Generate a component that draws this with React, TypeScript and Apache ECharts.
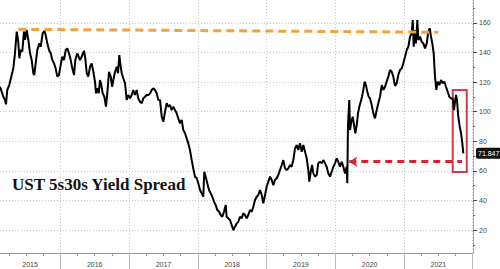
import React, { useEffect, useRef } from "react";
import * as echarts from "echarts";

// Decimal-year dates and 5s30s spread (bp)
const dates: number[] = [
  2015.122, 2015.147, 2015.170, 2015.195, 2015.209, 2015.228, 2015.257, 2015.292, 2015.316, 2015.340,
  2015.365, 2015.388, 2015.403, 2015.423, 2015.446, 2015.471, 2015.486, 2015.510, 2015.534, 2015.559,
  2015.583, 2015.607, 2015.621, 2015.641, 2015.665, 2015.694, 2015.714, 2015.743, 2015.767, 2015.787,
  2015.810, 2015.835, 2015.860, 2015.883, 2015.908, 2015.932, 2015.956, 2015.980, 2016.005, 2016.028,
  2016.053, 2016.078, 2016.101, 2016.126, 2016.151, 2016.174, 2016.199, 2016.218, 2016.247, 2016.286,
  2016.311, 2016.344, 2016.363, 2016.384, 2016.407, 2016.432, 2016.456, 2016.480, 2016.504, 2016.519,
  2016.538, 2016.558, 2016.577, 2016.596, 2016.616, 2016.640, 2016.664, 2016.683, 2016.708, 2016.733,
  2016.752, 2016.771, 2016.795, 2016.820, 2016.839, 2016.858, 2016.872, 2016.893, 2016.916, 2016.941,
  2016.965, 2016.989, 2017.014, 2017.038, 2017.062, 2017.086, 2017.111, 2017.134, 2017.159, 2017.184,
  2017.207, 2017.232, 2017.256, 2017.280, 2017.305, 2017.329, 2017.352, 2017.377, 2017.402, 2017.425,
  2017.450, 2017.475, 2017.498, 2017.523, 2017.547, 2017.571, 2017.596, 2017.620, 2017.644, 2017.668,
  2017.693, 2017.716, 2017.741, 2017.766, 2017.789, 2017.814, 2017.838, 2017.862, 2017.886, 2017.911,
  2017.934, 2017.959, 2017.984, 2018.007, 2018.032, 2018.057, 2018.080, 2018.094, 2018.115, 2018.138,
  2018.163, 2018.188, 2018.211, 2018.236, 2018.260, 2018.284, 2018.309, 2018.333, 2018.357, 2018.381,
  2018.406, 2018.420, 2018.444, 2018.468, 2018.493, 2018.517, 2018.541, 2018.566, 2018.589, 2018.614,
  2018.639, 2018.662, 2018.687, 2018.711, 2018.735, 2018.759, 2018.784, 2018.808, 2018.832, 2018.857,
  2018.880, 2018.905, 2018.930, 2018.953, 2018.978, 2019.002, 2019.026, 2019.051, 2019.075, 2019.099,
  2019.123, 2019.148, 2019.171, 2019.196, 2019.221, 2019.244, 2019.269, 2019.293, 2019.317, 2019.342,
  2019.366, 2019.390, 2019.414, 2019.439, 2019.462, 2019.487, 2019.512, 2019.535, 2019.560, 2019.584,
  2019.608, 2019.622, 2019.643, 2019.662, 2019.681, 2019.705, 2019.730, 2019.753, 2019.778, 2019.803,
  2019.826, 2019.851, 2019.875, 2019.899, 2019.924, 2019.948, 2019.972, 2019.996, 2020.021, 2020.044,
  2020.069, 2020.094, 2020.117, 2020.142, 2020.166, 2020.175, 2020.185, 2020.204, 2020.215, 2020.233,
  2020.254, 2020.273, 2020.292, 2020.312, 2020.331, 2020.350, 2020.370, 2020.389, 2020.408, 2020.428,
  2020.447, 2020.466, 2020.487, 2020.506, 2020.530, 2020.554, 2020.578, 2020.603, 2020.626, 2020.651,
  2020.676, 2020.699, 2020.724, 2020.748, 2020.772, 2020.797, 2020.821, 2020.845, 2020.869, 2020.894,
  2020.917, 2020.942, 2020.967, 2020.990, 2021.015, 2021.040, 2021.063, 2021.088, 2021.112, 2021.127,
  2021.141, 2021.160, 2021.175, 2021.194, 2021.209, 2021.233, 2021.258, 2021.281, 2021.306, 2021.331,
  2021.354, 2021.374, 2021.393, 2021.412, 2021.432, 2021.451, 2021.470, 2021.491, 2021.514, 2021.539,
  2021.563, 2021.587, 2021.611, 2021.636, 2021.659, 2021.684, 2021.709, 2021.728, 2021.742, 2021.757,
  2021.771, 2021.790, 2021.811, 2021.830, 2021.849, 2021.863,
];

const spread: number[] = [
  116.9, 113.5, 110.1, 107.9, 105.0, 114.7, 118.0, 124.8, 129.3, 139.5,
  154.1, 147.3, 136.1, 141.7, 140.6, 154.1, 148.5, 155.2, 148.5, 139.5,
  134.9, 125.9, 124.8, 132.7, 141.7, 146.2, 143.9, 153.0, 154.7, 151.8,
  146.2, 141.7, 139.5, 134.9, 132.7, 129.3, 123.7, 124.8, 131.6, 137.2,
  134.9, 141.7, 142.8, 139.5, 134.9, 129.3, 124.8, 134.9, 139.5, 134.9,
  137.2, 141.2, 136.1, 126.0, 123.7, 130.4, 132.7, 127.0, 120.3, 112.4,
  115.8, 112.4, 121.4, 118.0, 112.4, 110.1, 103.4, 112.4, 127.0, 123.7,
  116.9, 121.4, 127.0, 130.4, 126.0, 138.3, 132.7, 126.0, 122.6, 119.2,
  107.9, 111.3, 109.0, 111.3, 114.7, 111.3, 114.7, 109.0, 106.7, 105.7,
  109.0, 110.1, 111.3, 111.3, 112.4, 114.7, 115.8, 114.7, 112.4, 107.9,
  107.9, 96.6, 93.2, 100.0, 105.7, 103.4, 104.5, 101.1, 103.4, 101.1,
  98.9, 95.5, 92.2, 94.4, 87.6, 85.4, 82.0, 78.6, 74.1, 67.3,
  61.7, 56.1, 55.0, 51.6, 47.1, 44.8, 42.5, 59.4, 56.1, 51.6,
  47.1, 44.8, 42.5, 39.2, 36.9, 33.5, 32.4, 30.2, 29.0, 32.4,
  36.9, 29.0, 27.9, 26.8, 23.4, 20.0, 22.3, 24.5, 25.6, 29.0,
  27.9, 31.3, 30.2, 27.9, 30.2, 33.5, 32.4, 35.8, 40.3, 42.5,
  43.7, 47.1, 43.7, 38.1, 43.7, 49.3, 52.7, 56.1, 53.8, 50.4,
  53.8, 55.0, 57.2, 60.6, 64.0, 67.3, 61.7, 60.6, 61.7, 64.0,
  62.8, 67.3, 75.2, 77.5, 74.1, 78.6, 72.9, 77.5, 72.9, 68.5,
  60.6, 52.7, 59.4, 64.0, 58.3, 56.1, 57.2, 65.1, 66.2, 65.1,
  67.3, 65.1, 62.8, 58.3, 56.1, 59.4, 62.8, 65.1, 68.5, 66.2,
  62.8, 66.2, 62.8, 58.3, 62.8, 51.6, 91.0, 107.9, 87.6, 93.2,
  96.6, 91.0, 85.4, 91.0, 98.9, 103.4, 106.8, 110.1, 114.7, 120.3,
  118.0, 113.5, 110.1, 109.0, 104.5, 98.9, 95.5, 101.1, 105.7, 110.1,
  118.0, 114.7, 116.9, 120.3, 123.7, 128.2, 127.0, 123.7, 117.5, 119.2,
  124.8, 128.2, 129.3, 132.7, 137.2, 141.7, 143.9, 150.7, 153.0, 162.0,
  143.9, 155.2, 146.2, 162.0, 148.5, 150.7, 147.3, 146.2, 142.8, 146.2,
  154.1, 156.4, 150.7, 146.2, 139.5, 123.7, 114.7, 120.3, 118.0, 121.4,
  119.2, 120.3, 116.9, 113.5, 110.1, 109.0, 109.0, 101.1, 106.8, 111.3,
  107.9, 96.6, 89.9, 85.4, 78.6, 71.847,
];

const lastValue = 71.847;
const yTicks: number[] = [20, 40, 60, 80, 100, 120, 140, 160];
const yMinorTicks: number[] = [10, 30, 50, 70, 90, 110, 130, 150, 170];
const yearBounds: number[] = [2016, 2017, 2018, 2019, 2020, 2021, 2022];
const yearLabelPos: number[] = [2015.559, 2016.5, 2017.5, 2018.5, 2019.5, 2020.5, 2021.5];
const quarterTicks: number[] = [
  2015.25, 2015.5, 2015.75, 2016.25, 2016.5, 2016.75, 2017.25, 2017.5, 2017.75,
  2018.25, 2018.5, 2018.75, 2019.25, 2019.5, 2019.75, 2020.25, 2020.5, 2020.75,
  2021.25, 2021.5, 2021.75,
];
const titleText = "UST 5s30s Yield Spread";

// annotation anchors (data units)
const orangeStart: [number, number] = [2015.388, 155.7];
const orangeEnd: [number, number] = [2021.499, 153.7];
const redArrowStart: [number, number] = [2020.204, 66.2];
const redArrowEnd: [number, number] = [2021.844, 66.2];
const boxTopLeft: [number, number] = [2021.709, 114.7];
const boxBottomRight: [number, number] = [2021.913, 59.2];

const X_MIN = 2015.122;
const X_MAX = 2022.004;
const Y_MIN = 4.5;
const Y_MAX = 175.5;

export default function App() {
  const ref = useRef<HTMLDivElement>(null);
  useEffect(() => {
    if (!ref.current) return;
    const chart = echarts.init(ref.current, undefined, { renderer: "svg" });
    const data = dates.map((d, i) => [d, spread[i]]);
    const labelFont = { fontFamily: "Liberation Sans", fontSize: 7, color: "#444" };
    chart.setOption({
      animation: false,
      backgroundColor: "#fff",
      title: {
        text: titleText,
        left: 12,
        top: 176,
        padding: 0,
        textStyle: {
          fontFamily: "Liberation Serif",
          fontWeight: "bold",
          fontSize: 17,
          color: "#111",
        },
      },
      grid: { left: 0, right: 27, top: 0, bottom: 16, containLabel: false },
      xAxis: [
        {
          type: "value",
          min: X_MIN,
          max: X_MAX,
          position: "bottom",
          axisLine: { show: true, lineStyle: { color: "#999", width: 1 } },
          axisTick: {
            show: true,
            customValues: yearBounds,
            length: 16,
            lineStyle: { color: "#bbb", width: 1 },
          },
          axisLabel: {
            show: true,
            customValues: yearLabelPos,
            formatter: (v: number) => String(Math.floor(v)),
            margin: 8,
            ...labelFont,
          },
          splitLine: { show: true, lineStyle: { color: "#c8c8c8", type: [1, 2], width: 1 } },
        },
        {
          type: "value",
          min: X_MIN,
          max: X_MAX,
          position: "bottom",
          gridIndex: 0,
          axisLine: { show: false },
          axisTick: {
            show: true,
            customValues: quarterTicks,
            length: 3,
            lineStyle: { color: "#999", width: 1 },
          },
          axisLabel: { show: false },
          splitLine: { show: false },
        },
      ],
      yAxis: [
        {
          type: "value",
          min: Y_MIN,
          max: Y_MAX,
          position: "right",
          axisLine: { show: true, lineStyle: { color: "#aaa", width: 1 } },
          axisTick: {
            show: true,
            customValues: yTicks,
            length: 4,
            lineStyle: { color: "#444", width: 1 },
          },
          axisLabel: {
            show: true,
            customValues: yTicks,
            margin: 6,
            ...labelFont,
          },
          splitLine: { show: true, lineStyle: { color: "#c8c8c8", type: [1, 2], width: 1 } },
        },
        {
          type: "value",
          min: Y_MIN,
          max: Y_MAX,
          position: "right",
          gridIndex: 0,
          axisLine: { show: false },
          axisTick: {
            show: true,
            customValues: yMinorTicks,
            length: 2,
            lineStyle: { color: "#666", width: 1 },
          },
          axisLabel: { show: false },
          splitLine: { show: false },
        },
      ],
      series: [
        {
          type: "line",
          data,
          xAxisIndex: 0,
          yAxisIndex: 0,
          showSymbol: false,
          symbol: "none",
          lineStyle: { color: "#000", width: 2 },
          z: 3,
          markLine: {
            silent: true,
            symbol: "none",
            label: { show: false },
            data: [
              [
                {
                  coord: orangeStart,
                  lineStyle: { color: "#f4a23a", width: 3, type: [8, 5] },
                },
                { coord: orangeEnd },
              ],
              [
                {
                  coord: redArrowStart,
                  symbol: "arrow",
                  symbolSize: 8,
                  lineStyle: { color: "#d7262f", width: 3, type: [7, 5] },
                },
                { coord: redArrowEnd, symbol: "none" },
              ],
              {
                yAxis: lastValue,
                lineStyle: { color: "rgba(0,0,0,0)", width: 0 },
                label: {
                  show: true,
                  position: "end",
                  distance: 3,
                  formatter: String(lastValue),
                  backgroundColor: "#111",
                  color: "#fff",
                  fontFamily: "Liberation Sans",
                  fontSize: 7,
                  padding: [2, 2, 2, 2],
                  borderRadius: 2,
                },
              },
            ],
          },
          markArea: {
            silent: true,
            itemStyle: {
              color: "rgba(0,0,0,0)",
              borderColor: "#d43a48",
              borderWidth: 2,
            },
            data: [
              [
                { xAxis: boxTopLeft[0], yAxis: boxTopLeft[1] },
                { xAxis: boxBottomRight[0], yAxis: boxBottomRight[1] },
              ],
            ],
          },
        },
      ],
    });
    return () => chart.dispose();
  }, []);
  return (
    <div
      ref={ref}
      style={{ position: "absolute", left: 0, top: 0, width: 500, height: 269 }}
    />
  );
}
